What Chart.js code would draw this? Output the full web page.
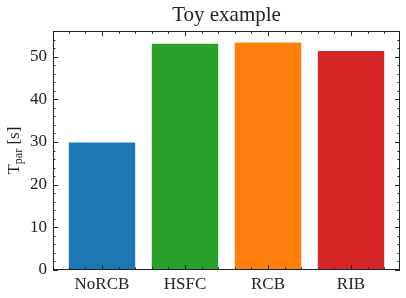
<!DOCTYPE html>
<html>
<head>
<meta charset="utf-8">
<script src="https://cdn.jsdelivr.net/npm/chart.js@4.4.0/dist/chart.umd.min.js"></script>
<style>
  html, body { margin: 0; padding: 0; background: #fff; }
  #wrap { width: 406px; height: 298px; }
</style>
</head>
<body>
<div id="wrap"><canvas id="toyChart"></canvas></div>
<script>
// data
const categories = ['NoRCB', 'HSFC', 'RCB', 'RIB'];
const tparValues = [29.9, 53.0, 53.3, 51.3];
const barColors = ['#1f77b4', '#2ca02c', '#ff7f0e', '#d62728'];
const yTickValues = [0, 10, 20, 30, 40, 50];

const FONT = "'Liberation Serif', 'DejaVu Serif', serif";
const yMax = Math.max(...tparValues) * 1.05;   // matplotlib style top margin
const xMin = -0.59, xMax = categories.length - 1 + 0.59;

// inward ticks on all four sides + frame, like SciencePlots
const frameTicks = {
    id: 'frameTicks',
    afterDatasetsDraw(chart) {
        const { ctx, chartArea: a, scales: { x, y } } = chart;
        ctx.save();
        ctx.strokeStyle = '#222';
        ctx.lineWidth = 1;
        ctx.beginPath();
        // y ticks (major every 10, minor every 2)
        for (let v = 0; v <= yMax; v += 2) {
            const len = v % 10 === 0 ? 5 : 2.5;
            const py = Math.round(y.getPixelForValue(v)) + 0.5;
            ctx.moveTo(a.left, py); ctx.lineTo(a.left + len, py);
            ctx.moveTo(a.right, py); ctx.lineTo(a.right - len, py);
        }
        // x ticks (major at categories, minor every 0.2)
        for (let k = -2; k <= (categories.length - 1) * 5 + 2; k++) {
            const v = k / 5;
            const len = k % 5 === 0 ? 5 : 2.5;
            const px = Math.round(x.getPixelForValue(v)) + 0.5;
            ctx.moveTo(px, a.bottom); ctx.lineTo(px, a.bottom - len);
            ctx.moveTo(px, a.top); ctx.lineTo(px, a.top + len);
        }
        ctx.stroke();
        ctx.strokeRect(Math.round(a.left) + 0.5, Math.round(a.top) + 0.5,
            Math.round(a.right - a.left) - 1, Math.round(a.bottom - a.top) - 1);
        ctx.restore();
    },
    afterDraw(chart) {
        // y axis title with subscript: T_par [s]
        const { ctx, chartArea: a } = chart;
        ctx.save();
        ctx.translate(19, (a.top + a.bottom) / 2);
        ctx.rotate(-Math.PI / 2);
        ctx.fillStyle = '#222';
        ctx.textBaseline = 'alphabetic';
        const big = '17px ' + FONT, small = '12px ' + FONT;
        ctx.font = big; const wT = ctx.measureText('T').width;
        ctx.font = small; const wSub = ctx.measureText('par').width;
        ctx.font = big; const wRest = ctx.measureText(' [s]').width;
        let cx = -(wT + wSub + wRest) / 2;
        ctx.textAlign = 'left';
        ctx.font = big; ctx.fillText('T', cx, 0); cx += wT;
        ctx.font = small; ctx.fillText('par', cx, 3); cx += wSub;
        ctx.font = big; ctx.fillText(' [s]', cx, 0);
        ctx.restore();
    }
};

new Chart(document.getElementById('toyChart'), {
    type: 'bar',
    data: {
        datasets: [{
            data: categories.map((c, i) => ({ x: i, y: tparValues[i] })),
            backgroundColor: barColors,
            borderWidth: 0,
            barPercentage: 0.8,
            categoryPercentage: 1.0,
        }]
    },
    options: {
        responsive: true,
        maintainAspectRatio: false,
        animation: false,
        layout: { padding: { left: 0, right: 6, top: 0, bottom: 0 } },
        plugins: {
            legend: { display: false },
            tooltip: { enabled: false },
            title: {
                display: true,
                fullSize: false,
                text: 'Toy example',
                color: '#222',
                font: { family: FONT, size: 21, weight: 'normal', lineHeight: 1.15 },
                padding: { top: 3, bottom: 4 },
            }
        },
        scales: {
            x: {
                type: 'linear',
                offset: false,
                min: xMin,
                max: xMax,
                grid: { display: false, drawTicks: false },
                border: { display: false },
                afterBuildTicks: (s) => { s.ticks = categories.map((c, i) => ({ value: i })); },
                afterFit: (s) => { s.height = 28; },
                ticks: {
                    autoSkip: false,
                    maxRotation: 0,
                    padding: 4,
                    color: '#222',
                    font: { family: FONT, size: 17 },
                    callback: (v) => categories[v] ?? '',
                }
            },
            y: {
                min: 0,
                max: yMax,
                grid: { display: false, drawTicks: false },
                border: { display: false },
                afterBuildTicks: (s) => { s.ticks = yTickValues.map(v => ({ value: v })); },
                afterFit: (s) => { s.width = 53; },
                ticks: {
                    padding: 6,
                    color: '#222',
                    font: { family: FONT, size: 17 },
                }
            }
        }
    },
    plugins: [frameTicks]
});
</script>
</body>
</html>
